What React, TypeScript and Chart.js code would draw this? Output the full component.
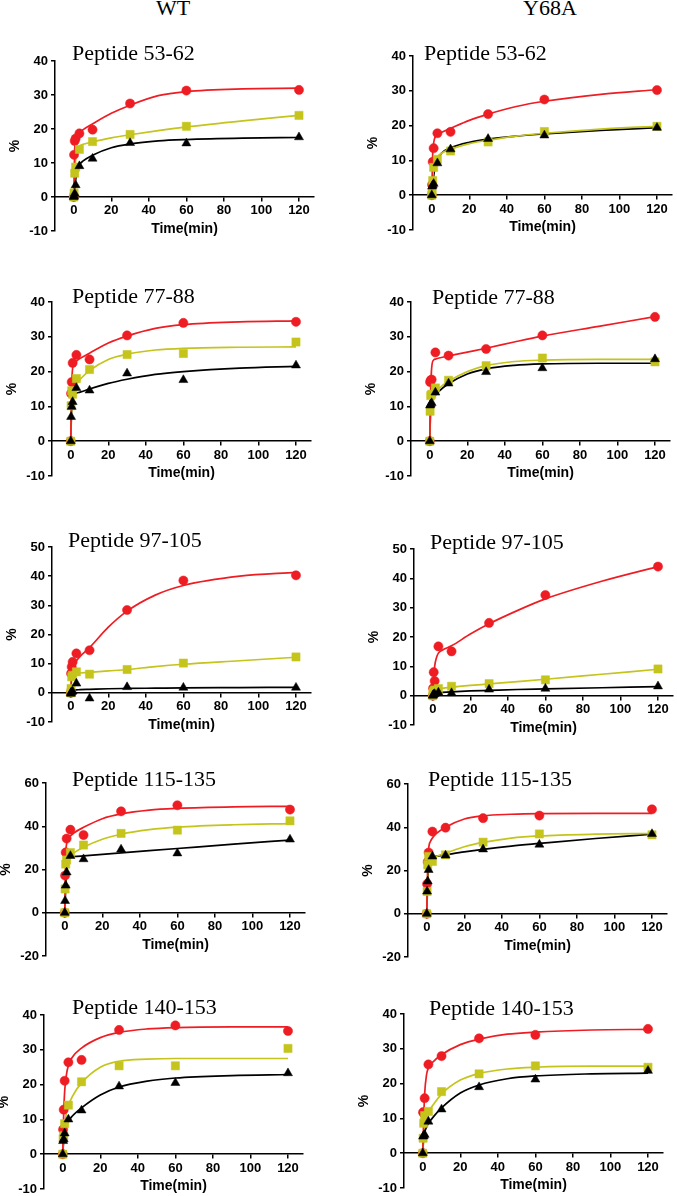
import React, { useEffect, useRef } from "react";
import { Chart, registerables } from "chart.js";
Chart.register(...registerables);

// ---------- data ----------
const TIMES = [0, 0.17, 0.5, 1, 3, 10, 30, 60, 120];
const FIT_TIMES = [0, 0.5, 1, 2, 3, 5, 10, 20, 30, 45, 60, 90, 120];
const X_TICKS = [0, 20, 40, 60, 80, 100, 120];
const Y_TICKS_40 = [-10, 0, 10, 20, 30, 40];
const Y_TICKS_50 = [-10, 0, 10, 20, 30, 40, 50];
const Y_TICKS_60 = [-20, 0, 20, 40, 60];
const COLUMNS = ["WT", "Y68A"];
const PEPTIDES = ["Peptide 53-62", "Peptide 77-88", "Peptide 97-105", "Peptide 115-135", "Peptide 140-153"];

// WT 53-62
const wt53Red = [0, 12.4, 16.5, 17.2, 18.7, 19.8, 27.5, 31.3, 31.5];
const wt53Yellow = [0, 1.2, 7, 8.8, 14, 16.3, 18.4, 20.8, 24];
const wt53Black = [0, 0.3, 1, 3.5, 9.1, 11.3, 15.9, 15.8, 17.6];
const wt53RedFit = [0, 14, 16.5, 18, 18.8, 19.8, 21.5, 24.6, 27, 29.8, 31, 31.8, 32];
const wt53YellowFit = [0, 6, 11, 14.3, 15, 15.5, 16.2, 17.4, 18.3, 19.5, 20.6, 22.4, 24];
const wt53BlackFit = [0, 2.5, 5, 8.2, 9.5, 10.6, 12.3, 14.5, 15.6, 16.5, 16.9, 17.3, 17.5];
// Y68A 53-62
const y68a53Red = [0, 3, 9.6, 13.5, 17.8, 18.2, 23.3, 27.5, 30.2];
const y68a53Yellow = [0, 0.5, 4.2, 8, 10.3, 12.7, 15.3, 18.3, 19.8];
const y68a53Black = [0, 2.5, 2.8, 3.3, 9.2, 13.2, 16.2, 17.2, 19.4];
const y68a53RedFit = [0, 12, 15, 17, 17.5, 18, 19.2, 21.5, 23.3, 25.5, 27, 29, 30.3];
const y68a53YellowFit = [0, 5, 7.5, 10, 11, 12, 13.2, 14.8, 15.8, 17, 17.8, 19, 19.8];
const y68a53BlackFit = [0, 3, 5.5, 8.5, 10, 12, 13.6, 15.2, 16.1, 17, 17.6, 18.6, 19.4];
// WT 77-88
const wt77Red = [0, 13.7, 17, 22.5, 24.8, 23.5, 30.4, 34, 34.3];
const wt77Yellow = [0, 10.2, 14.5, 13.5, 18, 20.6, 24.9, 25.2, 28.5];
const wt77Black = [0, 7, 9.9, 11.3, 15.3, 14.6, 19.5, 17.6, 21.8];
const wt77RedFit = [0, 16, 21, 22.5, 23, 23.8, 25.3, 28.2, 30.2, 32.4, 33.5, 34.3, 34.6];
const wt77YellowFit = [0, 12, 14.5, 15.8, 16.5, 17.8, 20.3, 23.5, 25, 26.2, 26.7, 27, 27.1];
const wt77BlackFit = [0, 10, 12.5, 13.5, 13.8, 14.1, 15, 16.6, 17.8, 19.2, 20, 21, 21.5];
// Y68A 77-88
const y68a77Red = [0, 17, 17.5, 17.7, 25.5, 24.6, 26.5, 30.4, 35.7];
const y68a77Yellow = [0, 8.6, 13.1, 13.5, 15.3, 17.5, 21.7, 23.9, 22.8];
const y68a77Black = [0, 10.3, 10.6, 11, 14, 16.6, 19.9, 21, 23.6];
const y68a77RedFit = [0, 15, 21, 23.3, 23.6, 23.9, 24.5, 25.6, 26.7, 28.5, 30.2, 33, 35.8];
const y68a77YellowFit = [0, 9, 12, 13.5, 14.2, 15.2, 17.2, 20, 21.7, 22.9, 23.3, 23.5, 23.5];
const y68a77BlackFit = [0, 10, 11.5, 12.5, 13.2, 14.4, 16.5, 19.3, 20.8, 21.8, 22.2, 22.4, 22.4];
// WT 97-105
const wt97Red = [0, 6.6, 8.9, 10.6, 13.5, 14.6, 28.4, 38.5, 40.3];
const wt97Yellow = [0, 1.5, 5.5, 6, 7.2, 6.4, 8, 10.2, 12.3];
const wt97Black = [0, -0.3, 0.3, 0.5, 3.2, -1.9, 2, 1.8, 1.8];
const wt97RedFit = [0, 7, 8.5, 10, 11, 12.5, 15.5, 22.5, 28, 33.5, 36.8, 40, 41.3];
const wt97YellowFit = [0, 5, 6.3, 6.6, 6.7, 6.8, 7, 7.5, 8, 9, 9.8, 11, 12.2];
const wt97BlackFit = [0, 0.5, 0.8, 1, 1, 1.1, 1.2, 1.4, 1.5, 1.6, 1.7, 1.8, 1.9];
// Y68A 97-105
const y68a97Red = [0, 2.5, 8, 5, 16.8, 15.1, 24.8, 34.3, 44];
const y68a97Yellow = [0, 1, 1.5, 1.9, 2.4, 3.2, 4.1, 5.4, 9.1];
const y68a97Black = [0, 0.2, 0.4, 0.6, 1.1, 0.9, 2.1, 2.4, 3.2];
const y68a97RedFit = [0, 6, 10, 13, 14.5, 15.5, 17, 21, 24.5, 29, 33, 39, 44];
const y68a97YellowFit = [0, 1, 1.6, 2, 2.2, 2.5, 2.9, 3.5, 4, 4.8, 5.6, 7.3, 9];
const y68a97BlackFit = [0, 0.3, 0.5, 0.8, 1, 1.1, 1.3, 1.6, 1.8, 2.1, 2.3, 2.7, 3.1];
// WT 115-135
const wt115Red = [0, 17.2, 27.9, 34.3, 38.4, 35.9, 46.9, 49.7, 47.7];
const wt115Yellow = [0, 11, 22.5, 24.4, 27.8, 31.3, 36.7, 38.2, 42.5];
const wt115Black = [0, 5.5, 12.6, 18.7, 26.3, 24.8, 29.3, 27.5, 33.9];
const wt115RedFit = [0, 26, 32, 34.5, 35.5, 37, 39.5, 43.5, 45.7, 47.5, 48.3, 49, 49.2];
const wt115YellowFit = [0, 20, 24, 25.8, 26.5, 27.8, 30.3, 34, 36.3, 38.4, 39.6, 40.7, 41.2];
const wt115BlackFit = [0, 12, 18.5, 24, 25.8, 26, 26.3, 27, 27.7, 28.7, 29.7, 31.7, 33.6];
// Y68A 115-135
const y68a115Red = [0, 13.8, 24, 28.3, 38, 39.8, 44.2, 45.4, 48.3];
const y68a115Yellow = [0, 10.3, 22.6, 26.5, 24.2, 27.2, 33.1, 36.9, 36.5];
const y68a115Black = [0, 10.3, 15, 20.3, 26.5, 27, 29.8, 32, 36.9];
const y68a115RedFit = [0, 22, 30, 33.5, 35, 37, 40, 43.8, 45.3, 46, 46.3, 46.4, 46.4];
const y68a115YellowFit = [0, 18, 23, 25, 25.7, 26.5, 28, 31, 33, 35, 36, 36.8, 37.1];
const y68a115BlackFit = [0, 15, 21, 25, 26, 26.5, 27.2, 28.6, 29.8, 31.3, 32.5, 34.8, 36.8];
// WT 140-153
const wt140Red = [0, 7.1, 12.8, 21.1, 26.4, 27.1, 35.7, 37, 35.4];
const wt140Yellow = [0, 4.5, 5.3, 8.8, 14.1, 20.8, 25.4, 25.4, 30.4];
const wt140Black = [0, 3.8, 4.3, 6, 10, 12.6, 19.5, 20.5, 23.3];
const wt140RedFit = [0, 12, 18, 23, 25.5, 27.8, 30.5, 33.5, 35, 36, 36.4, 36.6, 36.6];
const wt140YellowFit = [0, 5.5, 8.5, 12, 14, 16.5, 20.5, 25, 26.7, 27.3, 27.5, 27.5, 27.5];
const wt140BlackFit = [0, 4, 6, 8.2, 9.5, 10.9, 13.3, 17, 19.3, 21, 21.9, 22.6, 22.9];
// Y68A 140-153
const y68a140Red = [0, 11.8, 11.5, 15.8, 25.5, 27.9, 33, 34, 35.7];
const y68a140Yellow = [0, 4.3, 8.6, 10.8, 12, 17.7, 22.8, 25.1, 24.7];
const y68a140Black = [0, 4.8, 5, 5.3, 9.1, 12.6, 19, 21.2, 23.7];
const y68a140RedFit = [0, 10, 17, 22.5, 24.5, 26, 28.3, 31.2, 32.8, 34.2, 34.8, 35.4, 35.6];
const y68a140YellowFit = [0, 6, 8.5, 10.5, 11.8, 13.5, 17, 21, 22.9, 24.2, 24.7, 25, 25];
const y68a140BlackFit = [0, 4.5, 6, 7.5, 8.6, 10, 13, 17.3, 19.6, 21.4, 22.2, 22.8, 23];

// ---------- styling / layout ----------
const RED = "#ee1d23";
const YELLOW = "#c4c41c";
const BLACK = "#000000";
const SANS = '"Liberation Sans", Arial, sans-serif';
const SERIF = '"Liberation Serif", "Times New Roman", serif';

const X_MIN = -10;
const X_MAX = 128;
const PLOT_W = 259;
const YW = 52; // y-axis box width
const PT = 45;
const PR = 20;
const PB = 14;

type Panel = {
  title: string;
  yTicks: number[];
  series: number[][]; // red, yellow, black
  fits: number[][];
  left: number; // chart-area left (page px)
  top: number;
  bottom: number;
  tdx: number;
  tdy: number;
};

const PANELS: Panel[] = [
  { title: PEPTIDES[0], yTicks: Y_TICKS_40, series: [wt53Red, wt53Yellow, wt53Black], fits: [wt53RedFit, wt53YellowFit, wt53BlackFit], left: 55, top: 61, bottom: 231, tdx: 17, tdy: -1 },
  { title: PEPTIDES[0], yTicks: Y_TICKS_40, series: [y68a53Red, y68a53Yellow, y68a53Black], fits: [y68a53RedFit, y68a53YellowFit, y68a53BlackFit], left: 413, top: 56, bottom: 230, tdx: 11, tdy: 3.5 },
  { title: PEPTIDES[1], yTicks: Y_TICKS_40, series: [wt77Red, wt77Yellow, wt77Black], fits: [wt77RedFit, wt77YellowFit, wt77BlackFit], left: 52, top: 302, bottom: 476, tdx: 20, tdy: 1.3 },
  { title: PEPTIDES[1], yTicks: Y_TICKS_40, series: [y68a77Red, y68a77Yellow, y68a77Black], fits: [y68a77RedFit, y68a77YellowFit, y68a77BlackFit], left: 411, top: 302, bottom: 476, tdx: 21, tdy: 2 },
  { title: PEPTIDES[2], yTicks: Y_TICKS_50, series: [wt97Red, wt97Yellow, wt97Black], fits: [wt97RedFit, wt97YellowFit, wt97BlackFit], left: 52, top: 547, bottom: 722, tdx: 16, tdy: 0.3 },
  { title: PEPTIDES[2], yTicks: Y_TICKS_50, series: [y68a97Red, y68a97Yellow, y68a97Black], fits: [y68a97RedFit, y68a97YellowFit, y68a97BlackFit], left: 414, top: 549, bottom: 725, tdx: 16, tdy: 0 },
  { title: PEPTIDES[3], yTicks: Y_TICKS_60, series: [wt115Red, wt115Yellow, wt115Black], fits: [wt115RedFit, wt115YellowFit, wt115BlackFit], left: 46, top: 783, bottom: 956, tdx: 26, tdy: 3 },
  { title: PEPTIDES[3], yTicks: Y_TICKS_60, series: [y68a115Red, y68a115Yellow, y68a115Black], fits: [y68a115RedFit, y68a115YellowFit, y68a115BlackFit], left: 408, top: 784, bottom: 957, tdx: 20, tdy: 2 },
  { title: PEPTIDES[4], yTicks: Y_TICKS_40, series: [wt140Red, wt140Yellow, wt140Black], fits: [wt140RedFit, wt140YellowFit, wt140BlackFit], left: 44, top: 1015, bottom: 1189, tdx: 28, tdy: -1 },
  { title: PEPTIDES[4], yTicks: Y_TICKS_40, series: [y68a140Red, y68a140Yellow, y68a140Black], fits: [y68a140RedFit, y68a140YellowFit, y68a140BlackFit], left: 404, top: 1014, bottom: 1188, tdx: 25, tdy: 1 },
];

const COLORS = [RED, YELLOW, BLACK];
const STYLES = ["circle", "rect", "triangle"];
const RADII = [4.6, 5.8, 5.2];
const POINT_ORDER = [0.3, 0.2, 0.1]; // black markers on top

function PanelChart({ p }: { p: Panel }) {
  const ref = useRef<HTMLCanvasElement | null>(null);
  const plotH = p.bottom - p.top;
  const w = YW + PLOT_W + PR;
  const h = PT + plotH + PB;

  useEffect(() => {
    if (!ref.current) return;
    const pts = (ys: number[]) => TIMES.map((t, i) => ({ x: t, y: ys[i] }));
    const fit = (ys: number[]) => FIT_TIMES.map((t, i) => ({ x: t, y: ys[i] }));
    const datasets: any[] = [];
    p.series.forEach((s, k) => {
      datasets.push({
        data: pts(s),
        showLine: false,
        pointStyle: STYLES[k],
        pointRadius: RADII[k],
        backgroundColor: COLORS[k],
        borderColor: COLORS[k],
        pointBorderWidth: 0.5,
        order: POINT_ORDER[k],
      });
    });
    p.fits.forEach((s, k) => {
      datasets.push({
        data: fit(s),
        showLine: true,
        pointRadius: 0,
        borderColor: COLORS[k],
        backgroundColor: COLORS[k],
        borderWidth: 1.7,
        cubicInterpolationMode: "monotone",
        order: 1,
      });
    });
    const titlePlugin = {
      id: "panelTitle",
      afterDraw(chart: any) {
        const { ctx, chartArea } = chart;
        ctx.save();
        ctx.font = `22px ${SERIF}`;
        ctx.fillStyle = "#000";
        ctx.textAlign = "left";
        ctx.textBaseline = "alphabetic";
        ctx.fillText(p.title, chartArea.left + p.tdx, chartArea.top + p.tdy);
        ctx.restore();
      },
    };
    const yMin = p.yTicks[0];
    const yMax = p.yTicks[p.yTicks.length - 1];
    const chart = new Chart(ref.current, {
      type: "scatter",
      data: { datasets },
      options: {
        responsive: false,
        animation: false,
        devicePixelRatio: 1,
        layout: { padding: { top: PT, right: PR, bottom: PB, left: 0 }, autoPadding: false },
        plugins: { legend: { display: false }, tooltip: { enabled: false }, title: { display: false } },
        scales: {
          x: {
            type: "linear",
            min: X_MIN,
            max: X_MAX,
            position: { y: 0 },
            afterBuildTicks: (s: any) => {
              s.ticks = X_TICKS.map((v) => ({ value: v }));
            },
            grid: { drawOnChartArea: false, drawTicks: true, tickLength: 4, color: "#000", lineWidth: 1.5 },
            border: { display: true, color: "#000", width: 1.5 },
            ticks: { color: "#000", font: { family: SANS, size: 13, weight: "bold" }, padding: 2, maxRotation: 0, autoSkip: false },
            title: { display: true, text: "Time(min)", color: "#000", font: { family: SANS, size: 14, weight: "bold" }, padding: { top: 0, bottom: 0 } },
          },
          y: {
            type: "linear",
            position: "left",
            min: yMin,
            max: yMax,
            afterBuildTicks: (s: any) => {
              s.ticks = p.yTicks.map((v) => ({ value: v }));
            },
            afterFit: (s: any) => {
              s.width = YW;
            },
            grid: { drawOnChartArea: false, drawTicks: true, tickLength: 4, color: "#000", lineWidth: 1.5 },
            border: { display: true, color: "#000", width: 1.5 },
            ticks: { color: "#000", font: { family: SANS, size: 13, weight: "bold" }, padding: 3, autoSkip: false },
            title: { display: true, text: "%", color: "#000", font: { family: SANS, size: 14, weight: "bold" }, padding: { top: 4, bottom: 0 } },
          },
        },
      } as any,
      plugins: [titlePlugin],
    });
    return () => chart.destroy();
  }, []);

  return (
    <canvas
      ref={ref}
      width={w}
      height={h}
      style={{ position: "absolute", left: p.left - YW, top: p.top - PT, width: w, height: h }}
    />
  );
}

export default function App() {
  const headerCenters = [173, 550];
  return (
    <div style={{ position: "absolute", left: 0, top: 0, width: 677, height: 1196, background: "#fff", overflow: "hidden" }}>
      {COLUMNS.map((c, i) => (
        <div
          key={c}
          style={{
            position: "absolute",
            left: headerCenters[i] - 60,
            top: -3,
            width: 120,
            textAlign: "center",
            fontFamily: SERIF,
            fontSize: 22,
            lineHeight: "22px",
            color: "#000",
          }}
        >
          {c}
        </div>
      ))}
      {PANELS.map((p, i) => (
        <PanelChart key={i} p={p} />
      ))}
    </div>
  );
}
